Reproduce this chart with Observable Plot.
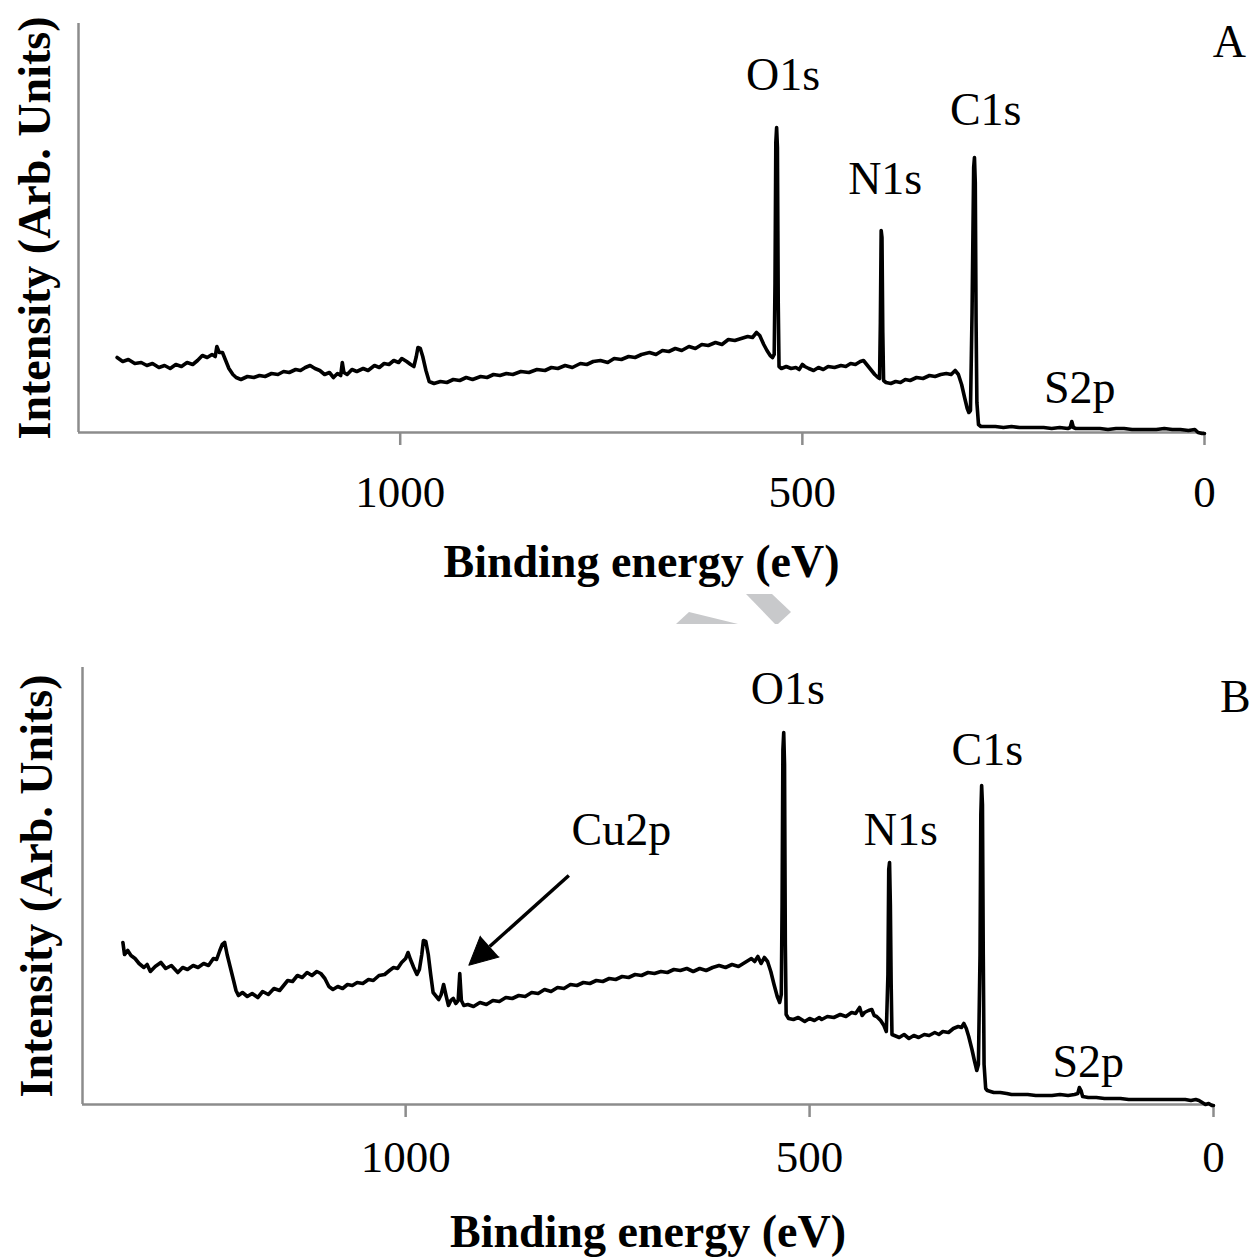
<!DOCTYPE html>
<html>
<head>
<meta charset="utf-8">
<script src="https://cdn.jsdelivr.net/npm/d3@7"></script>
<script src="https://cdn.jsdelivr.net/npm/@observablehq/plot@0.6"></script>
<style>
  body { margin: 0; background: white; }
  #wrap { position: relative; width: 1253px; }
  #wrap svg { display: block; }
  #mark { position: absolute; left: 0; top: 0; }
</style>
</head>
<body>
<div id="wrap">
  <div id="chartA"></div>
  <div id="chartB"></div>
  <svg id="mark" width="1253" height="700"><polygon points="676,624 689,612 738,624" fill="#c8c9cb"/><polygon points="746,594 772,594 791,612 778,624 775,624" fill="#c8c9cb"/></svg>
</div>
<script>
// survey spectrum A
const energyA = [1352,1345,1338,1330,1322,1315,1308,1300,1293,1286,1279,1272,1265,1258,1252,1246,1240,1234,1230,1228,1225,1221,1217,1213,1208,1204,1198,1190,1182,1175,1168,1160,1152,1145,1138,1130,1124,1118,1112,1106,1100,1094,1088,1083,1078,1074,1072,1070,1066,1060,1054,1046,1040,1032,1026,1020,1014,1008,1002,998,992,987,983,980,978,975,972,968,964,958,950,942,934,926,918,910,900,892,884,876,868,860,850,840,830,820,812,804,795,786,776,768,760,751,742,734,725,716,708,700,690,682,674,666,658,650,641,633,625,617,608,600,592,584,576,568,562,557,553,548,544,540,537,535,534,533,532,531,530,529,526,520,514,508,504,500,497,492,486,480,474,468,460,452,446,440,434,428,424,420,415,410,406,404,403,402,401,400,399,396,390,384,378,372,366,358,350,342,335,328,321,315,310,306,302,298,295,293,291,289,287,286,285,284,283,281,278,270,260,250,240,230,220,210,200,190,180,170,167,165,163,160,150,140,130,120,110,100,90,80,70,60,50,40,30,20,12,8,3,0];
const intensityA = [75,71,73,69,70,67,69,65,67,64,68,66,70,68,72,77,75,78,76,86,80,80,72,64,58,55,53,56,55,57,56,59,58,61,60,63,62,65,67,64,62,58,60,55,59,57,70,60,58,63,61,64,62,67,65,69,68,72,70,74,71,68,66,76,85,84,76,62,51,49,51,50,53,52,55,53,56,55,58,57,59,58,61,60,63,62,65,64,67,65,69,68,71,72,70,74,73,76,75,78,80,78,82,81,84,82,86,84,88,87,90,88,93,92,94,96,95,100,97,88,82,77,75,78,150,290,305,285,130,66,64,66,64,65,63,68,66,64,62,65,63,66,65,67,66,69,68,71,72,68,63,58,55,54,110,202,195,100,52,50,49,51,50,53,52,55,54,57,56,58,59,58,62,58,48,34,24,20,22,120,265,275,250,110,30,8,6,6,6,5,6,5,5,5,5,4,5,4,5,11,5,4,4,4,4,3,4,4,3,3,3,3,4,3,3,2,3,0,-1,-1];

// survey spectrum B
const energyB = [1350,1348,1344,1340,1335,1330,1324,1320,1316,1310,1303,1297,1290,1282,1276,1270,1263,1257,1250,1244,1238,1234,1230,1227,1224,1221,1217,1213,1210,1207,1202,1196,1190,1183,1177,1170,1163,1156,1150,1146,1140,1134,1128,1122,1116,1110,1105,1100,1095,1090,1084,1078,1072,1066,1060,1053,1046,1040,1033,1026,1020,1015,1010,1005,1000,997,994,990,986,983,980,978,975,972,969,966,962,959,956,953,950,947,944,941,938,935,933,931,928,923,916,908,900,892,884,876,868,860,852,844,836,828,820,812,804,796,788,780,772,764,756,748,740,732,724,716,708,700,692,684,676,668,660,652,644,636,628,620,612,604,596,588,580,572,568,564,560,556,552,548,544,540,537,535,534,533,532,531,530,529,526,520,514,506,500,494,488,485,478,470,462,455,448,443,438,435,432,427,423,420,417,412,408,405,403,402,401,400,399,398,395,389,383,377,371,365,358,352,345,340,335,328,322,316,312,309,306,303,299,296,293,291,289,288,287,286,285,284,282,280,272,264,256,250,240,230,220,210,200,190,180,172,168,166,164,162,155,145,135,125,115,105,95,85,75,65,55,45,35,28,22,18,14,10,6,2,0];
const intensityB = [162,150,154,149,146,141,137,140,133,138,142,136,139,132,137,135,139,137,141,139,146,145,154,160,162,150,137,124,114,109,112,108,111,107,113,110,116,114,120,124,123,129,127,132,129,133,131,126,118,115,118,116,120,119,122,121,125,124,129,130,134,137,136,142,146,152,145,137,130,135,150,164,163,150,130,112,108,105,110,120,109,99,104,106,101,104,131,104,99,100,98,102,100,104,103,107,106,109,108,112,111,115,113,117,116,120,119,122,121,124,123,126,125,128,127,130,129,132,131,133,132,135,134,136,133,136,134,137,139,137,140,138,142,146,143,148,141,147,143,133,120,108,102,110,200,355,372,340,160,90,86,85,87,83,86,84,87,85,88,87,90,88,92,91,97,89,92,94,95,89,88,84,79,73,130,235,242,200,120,70,69,67,70,66,69,67,70,69,72,70,73,72,76,78,77,81,76,68,55,44,34,40,150,290,319,300,150,40,16,14,12,12,11,10,10,10,9,9,9,10,9,10,11,17,14,8,7,7,6,6,6,5,5,5,5,5,5,5,5,4,5,4,2,0,1,-1,-1];

const xTicks = [1000, 500, 0];
const xLabel = "Binding energy (eV)";
const yLabel = "Intensity (Arb. Units)";

// peak labels
const peaksA = [
  {e: 524, v: 357, t: "O1s"},
  {e: 397, v: 253, t: "N1s"},
  {e: 272, v: 322, t: "C1s"},
  {e: 155, v: 44, t: "S2p"},
  {e: -31, v: 390, t: "A"}
];
const peaksB = [
  {e: 527, v: 415, t: "O1s"},
  {e: 280, v: 354, t: "C1s"},
  {e: 387, v: 274, t: "N1s"},
  {e: 733, v: 274, t: "Cu2p"},
  {e: 155, v: 42, t: "S2p"},
  {e: -27, v: 407, t: "B"}
];
// Cu2p arrow: tail and head base
const arrowB = {e1: 798, v1: 229, e2: 896, v2: 158};

const serif = "Liberation Serif, Times New Roman, serif";
const axisGray = "#8c8c8c";

function panel(energy, intensity, peaks, o) {
  const data = energy.map((e, i) => ({e, v: intensity[i]}));
  const marks = [
    Plot.ruleX([1400], {stroke: axisGray, strokeWidth: 2.5}),
    Plot.ruleY([0], {stroke: axisGray, strokeWidth: 2.5}),
    Plot.axisX({ticks: xTicks, tickSize: 13, tickPadding: o.tickPadding, fontSize: 45, stroke: axisGray, strokeWidth: 2.5, fill: "black", tickFormat: d => String(d), label: null}),
    Plot.line(data, {x: "e", y: "v", stroke: "black", strokeWidth: 3.6, strokeLinejoin: "round"}),
    Plot.text(peaks, {x: "e", y: "v", text: "t", fontSize: 46, fill: "black"}),
    Plot.text([xLabel], {frameAnchor: "bottom", dy: o.xLabelDy, fontSize: 46, fontWeight: "bold", fill: "black"}),
    Plot.text([yLabel], {frameAnchor: "left", textAnchor: "middle", dx: o.yLabelDx, rotate: -90, fontSize: 46, fontWeight: "bold", fill: "black"})
  ];
  if (o.arrow) {
    const a = o.arrow;
    marks.push(Plot.link([a], {x1: "e1", y1: "v1", x2: "e2", y2: "v2", stroke: "black", strokeWidth: 3.5}));
    marks.push(Plot.vector([a], {x: "e2", y: "v2", length: 28, rotate: 228, shape: "spike", r: 14, anchor: "start", fill: "black", stroke: "black", strokeWidth: 1}));
  }
  return Plot.plot({
    width: 1253,
    height: o.height,
    marginLeft: o.left,
    marginRight: o.right,
    marginTop: o.top,
    marginBottom: o.bottom,
    x: {domain: [1400, 0], axis: null},
    y: {domain: [0, o.ymax], axis: null},
    style: {fontFamily: serif, color: "black", background: "white", overflow: "visible"},
    marks
  });
}

const chartA = panel(energyA, intensityA, peaksA, {
  height: 610, left: 78, right: 49, top: 23, bottom: 178, ymax: 409,
  tickPadding: 30, xLabelDy: 144, yLabelDx: -43
});
const chartB = panel(energyB, intensityB, peaksB, {
  height: 648, left: 82, right: 40, top: 57, bottom: 154, ymax: 437,
  tickPadding: 23, xLabelDy: 142, yLabelDx: -45, arrow: arrowB
});

d3.select("#chartA").append(() => chartA);
d3.select("#chartB").append(() => chartB);
</script>
</body>
</html>
